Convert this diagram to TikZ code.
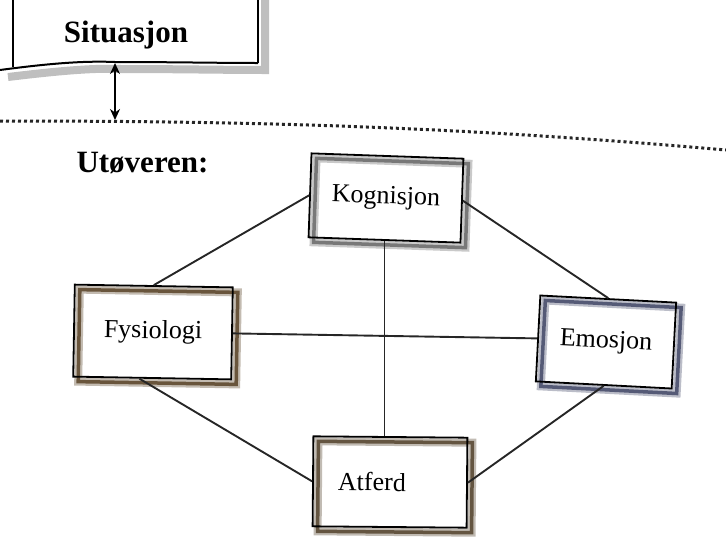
\documentclass[tikz,border=0pt]{standalone}
\usepackage{fontspec}
\setmainfont{Liberation Serif}
\usetikzlibrary{shadows,calc,arrows.meta}
\definecolor{kgray}{RGB}{120,120,120}
\definecolor{fbrown}{RGB}{105,85,60}
\definecolor{eblue}{RGB}{85,90,118}
\definecolor{abrown}{RGB}{100,85,65}
\begin{document}
\begin{tikzpicture}[x=1pt,y=-1pt,
  box/.style={draw=black, line width=1.8pt, inner sep=0pt,
    font=\fontsize{26}{30}\selectfont,
    copy shadow={shadow xshift=5pt, shadow yshift=-5pt, draw=#1!40, line width=8pt, fill=white},
    copy shadow={shadow xshift=5pt, shadow yshift=-5pt, draw=#1, line width=3.5pt, fill opacity=0}},
  link/.style={line width=1.9pt, black!85},
  title/.style={font=\fontsize{31}{34}\selectfont\bfseries}]
\useasboundingbox (0,0) rectangle (726,536);

% Situasjon box
\draw[line width=8pt, gray!50] (265,-10) -- (265,70) .. controls (226,70) and (176,69) .. (121,69)
  .. controls (96,68) and (66,70) .. (8,77);
\fill[white] (13,-10) -- (13,68) .. controls (60,62) and (90,61) .. (115,62)
  .. controls (170,62) and (220,63) .. (258,63) -- (258,-10) -- cycle;
\draw[line width=2pt] (13,-10) -- (13,67);
\draw[line width=2pt] (258,-10) -- (258,63);
\draw[line width=2pt] (0,70) .. controls (60,62) and (90,61) .. (115,62)
  .. controls (170,62) and (220,63) .. (258,63);
\node[title] (s) at (126,35) {Situasjon};
\coordinate (sb) at (115,63);
\coordinate (sd) at (115,120);
\draw[<->, line width=2.3pt, >={Stealth[length=11pt,width=10pt]}] (sb) -- (sd);

% dotted boundary
\draw[line width=3pt, dash pattern=on 3pt off 3pt, black!85] (0,121) .. controls (250,121) and (450,126) .. (726,150);

\node[title, anchor=west] (u) at (73,163) {Utøveren:};

% boxes
\node[box=kgray, minimum width=152pt, minimum height=84pt, rotate=-2] (k) at (386,198) {Kognisjon};
\node[box=fbrown, minimum width=158pt, minimum height=92pt, rotate=-1] (f) at (153,332) {Fysiologi};
\node[box=eblue, minimum width=136pt, minimum height=86pt, rotate=-3] (e) at (606,342) {Emosjon};
\node[box=abrown, minimum width=154pt, minimum height=90pt, rotate=-0.5, text width=104pt, align=left] (a) at (390,482) {Atferd};

% connectors
\draw[link] (k.west) -- (f.north);
\draw[link] (k.east) -- (e.north);
\draw[link] (k.south) -- (k.south |- a.north);
\draw[link] (f.east) -- (e.west);
\draw[link] ($(f.south west)!0.42!(f.south east)$) -- (a.west);
\draw[link] (e.south) -- (a.east);
\end{tikzpicture}
\end{document}
